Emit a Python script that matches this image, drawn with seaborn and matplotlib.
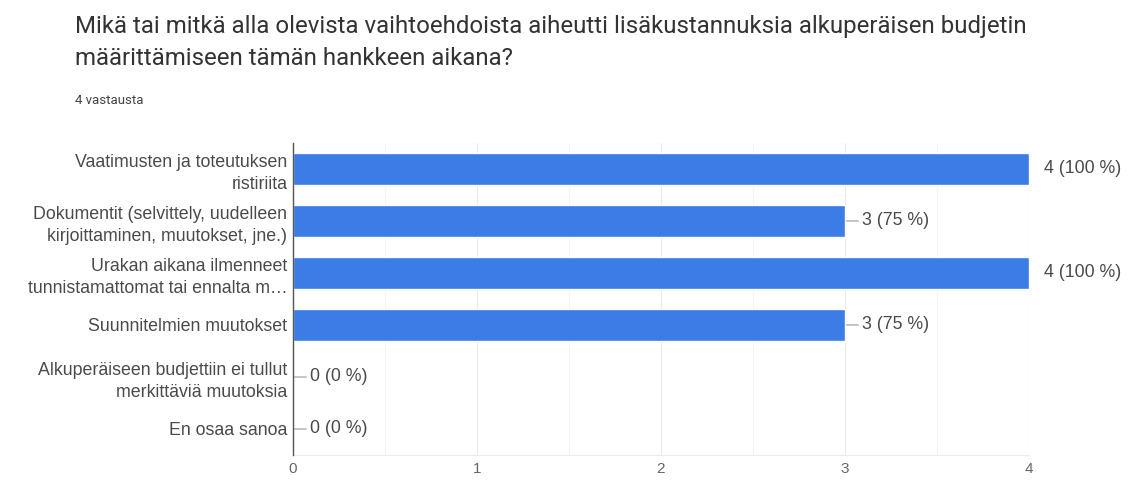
import matplotlib
matplotlib.use("Agg")
import matplotlib.pyplot as plt
import seaborn as sns
import pandas as pd

categories = [
    "Vaatimusten ja toteutuksen\nristiriita",
    "Dokumentit (selvittely, uudelleen\nkirjoittaminen, muutokset, jne.)",
    "Urakan aikana ilmenneet\ntunnistamattomat tai ennalta m…",
    "Suunnitelmien muutokset",
    "Alkuperäiseen budjettiin ei tullut\nmerkittäviä muutoksia",
    "En osaa sanoa",
]
counts = [4, 3, 4, 3, 0, 0]
percents = [100, 75, 100, 75, 0, 0]
total_responses = 4
x_ticks = [0, 1, 2, 3, 4]

title = ("Mikä tai mitkä alla olevista vaihtoehdoista aiheutti lisäkustannuksia alkuperäisen budjetin\n"
         "määrittämiseen tämän hankkeen aikana?")
subtitle = f"{total_responses} vastausta"

sns.set_theme(style="white")
plt.rcParams["font.family"] = ["Liberation Sans", "DejaVu Sans"]
chart_font = ["Liberation Sans", "DejaVu Sans"]
head_font = ["Roboto", "DejaVu Sans"]
label_size = 12.8

df = pd.DataFrame({"kategoria": categories, "maara": counts})

fig = plt.figure(figsize=(11.39, 4.83), dpi=100)
ax = fig.add_axes([0.2572, 0.058, 0.6462, 0.646])

sns.barplot(data=df, x="maara", y="kategoria", orient="h", color="#3b7ce6",
            saturation=1, width=0.6, ax=ax, zorder=3)

ax.set_xlim(0, 4)
ax.set_ylim(5.5, -0.5)
ax.set_xticks(x_ticks)
ax.set_xticks([0.5, 1.5, 2.5, 3.5], minor=True)
ax.set_xticklabels([str(t) for t in x_ticks], fontsize=11, color="#666666",
                   family=chart_font)
ax.tick_params(axis="x", which="both", length=0, pad=5)
ax.tick_params(axis="y", length=0, pad=4)
ax.grid(axis="x", which="major", color="#ebebeb", lw=0.8, zorder=0)
ax.grid(axis="x", which="minor", color="#f3f3f3", lw=0.8, zorder=0)
ax.set_axisbelow(True)
for lab in ax.get_yticklabels():
    lab.set_fontsize(label_size)
    lab.set_color("#4a4a4a")
    lab.set_family(chart_font)
    lab.set_horizontalalignment("right")
    lab.set_multialignment("right")
    lab.set_linespacing(1.35)
ax.set_xlabel("")
ax.set_ylabel("")

for side in ["top", "right"]:
    ax.spines[side].set_visible(False)
ax.spines["bottom"].set_color("#ececec")
ax.spines["bottom"].set_linewidth(0.8)
ax.spines["left"].set_color("#555555")
ax.spines["left"].set_linewidth(1.0)
ax.spines["left"].set_zorder(5)

xmax = max(x_ticks)
for i, (c, p) in enumerate(zip(counts, percents)):
    label = f"{c} ({p} %)"
    if c >= xmax:
        ax.annotate(label, xy=(c, i), xytext=(11, 0), textcoords="offset points",
                    ha="left", va="center", fontsize=label_size, color="#4a4a4a",
                    family=chart_font, annotation_clip=False)
    else:
        ax.annotate(label, xy=(c, i), xytext=(12, 0), textcoords="offset points",
                    ha="left", va="center", fontsize=label_size, color="#4a4a4a",
                    family=chart_font,
                    arrowprops=dict(arrowstyle="-", color="#999999", lw=0.8,
                                    shrinkA=0, shrinkB=1),
                    annotation_clip=False)

fig.text(75 / 1139, 1 - 15 / 483, title, ha="left", va="top", fontsize=17.3,
         color="#333333", linespacing=1.5, family=head_font)
fig.text(75 / 1139, 1 - 100 / 483, subtitle, ha="left", va="center", fontsize=9.5,
         color="#444444", family=head_font)

fig.savefig("out.png", dpi=100, facecolor="white")
